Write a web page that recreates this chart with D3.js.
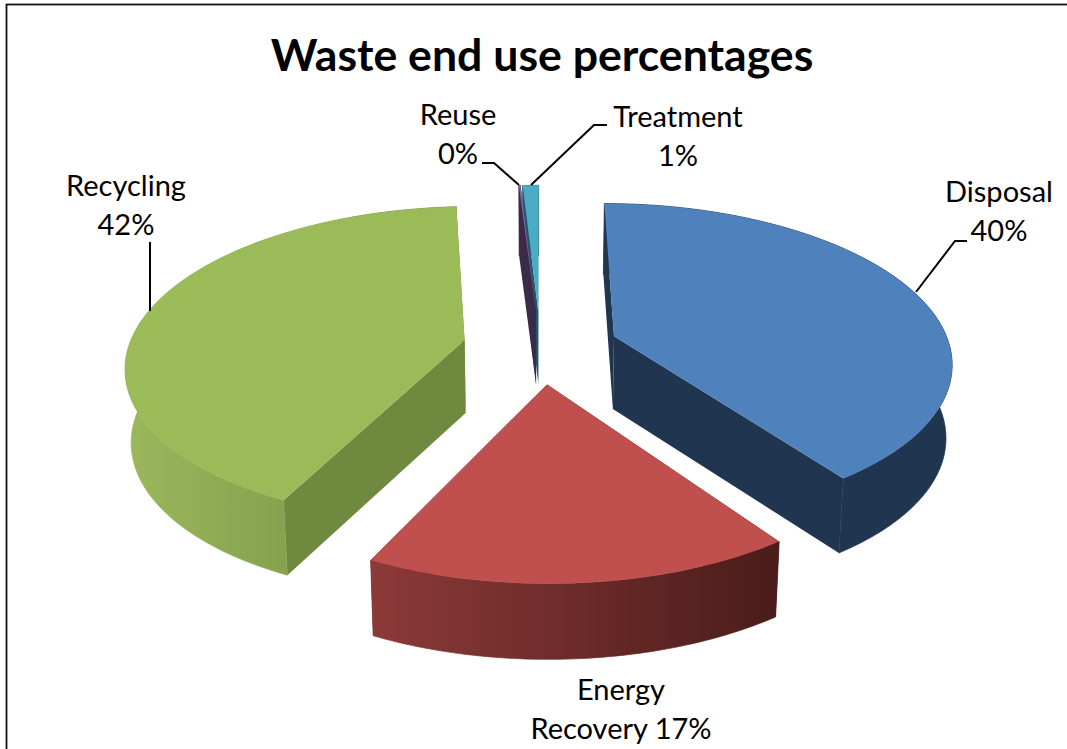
<!DOCTYPE html>
<html>
<head>
<meta charset="utf-8">
<title>Waste end use percentages</title>
<script src="https://cdn.jsdelivr.net/npm/d3@7"></script>
<style>
  html, body { margin: 0; padding: 0; background: #fff; }
  svg { display: block; }
  text { font-family: Lato, "Open Sans", sans-serif; fill: #000; }
</style>
</head>
<body>
<div id="chart"></div>
<script>
// Waste end use, exploded 3D pie

const chartTitle = "Waste end use percentages";
const categories = ["Disposal", "Energy Recovery", "Recycling", "Reuse", "Treatment"];
const shares = [40.2, 17.0, 41.8, 0.1, 0.9];
const topColors = ["#4f81bd", "#c0504d", "#9bbb59", "#8064a2", "#4bacc6"];
const cutColors = ["#1f3550", "#4a1c1a", "#6f8a3f", "#3b2a48", "#1f5a6a"];
const wallLeft = ["#1f3550", "#8c3a38", "#9bb85c", "#3b2a48", "#1f5a6a"];
const wallRight = ["#1f3550", "#4a1c1a", "#6f8a3f", "#3b2a48", "#1f5a6a"];
// back slices first so nearer ones paint over them
const drawOrder = [4, 3, 0, 2, 1];

// label lines, one entry per category
const labelLines = [
  ["Disposal", "40%"],
  ["Energy", "Recovery 17%"],
  ["Recycling", "42%"],
  ["Reuse", "0%"],
  ["Treatment", "1%"]
];
const labelPos = [[999, 202], [621, 700], [126, 196], [458, 125], [678, 127]];
const leaders = [
  [[967, 241], [955, 241], [916, 292]],
  [],
  [[150, 242], [150, 311]],
  [[482, 163], [494, 163], [519, 185]],
  [[607, 125], [594, 125], [531, 185]]
];

const width = 1067, height = 749;
const explode = 0.232;   // slice offset, in pie radii
const persp = 0.153;     // perspective strength along the depth axis

const svg = d3.select("#chart").append("svg")
  .attr("width", width)
  .attr("height", height);

// unit pie coords -> screen
const xScale = d3.scaleLinear().domain([-1, 1]).range([540.5 - 336, 540.5 + 336]);
const yScale = d3.scaleLinear().domain([-1, 1]).range([347 - 156, 347 + 156]);
const zScale = d3.scaleLinear().domain([0, 1]).range([0, 73]);
const squeeze = d3.scaleLinear().domain([0, 1]).range([1, 0.985]);

function project(u, v, z) {
  const s = 1 / (1 - persp * v);
  const x0 = xScale(u * s * squeeze(z));
  return [x0, yScale(v * s) + zScale(z) * (1 + 0.03 * v)];
}

const pie = d3.pie().sort(null).startAngle(0).endAngle(2 * Math.PI);
const arcs = pie(shares);

const line = d3.line();
const defs = svg.append("defs");

// Outer frame of the chart area
svg.append("rect")
  .attr("x", 6.5)
  .attr("y", 4.5)
  .attr("width", width + 20)
  .attr("height", height + 20)
  .attr("fill", "#fff")
  .attr("stroke", "#111")
  .attr("stroke-width", 1.8);

svg.append("text")
  .attr("x", 542)
  .attr("y", 71)
  .attr("text-anchor", "middle")
  .attr("font-size", 44.6)
  .attr("font-weight", 700)
  .text(chartTitle);

const slices = svg.append("g");

drawOrder.forEach(i => {
  const d = arcs[i];
  const mid = (d.startAngle + d.endAngle) / 2;
  const cu = explode * Math.sin(mid);
  const cv = -explode * Math.cos(mid);

  const steps = d3.range(0, 61).map(t => d.startAngle + (d.endAngle - d.startAngle) * t / 60);
  const rim = z => steps.map(a => project(cu + Math.sin(a), cv - Math.cos(a), z));
  const apex = z => project(cu, cv, z);

  const top = rim(0), bottom = rim(1);
  const g = slices.append("g").attr("class", "slice");

  // gradient across the outer wall
  const gradId = "wall" + i;
  const grad = defs.append("linearGradient")
    .attr("id", gradId)
    .attr("gradientUnits", "userSpaceOnUse")
    .attr("x1", d3.min(top, p => p[0]))
    .attr("x2", d3.max(top, p => p[0]))
    .attr("y1", 0)
    .attr("y2", 0);
  grad.append("stop").attr("offset", 0).attr("stop-color", wallLeft[i]);
  grad.append("stop").attr("offset", 1).attr("stop-color", wallRight[i]);

  // the two cut faces
  [[top[0], bottom[0]], [top[60], bottom[60]]].forEach(edge => {
    g.append("path")
      .attr("d", line([apex(0), edge[0], edge[1], apex(1)]) + "Z")
      .attr("fill", cutColors[i]);
  });

  // stroke hides the hairline seam where wall meets cut face
  g.append("path")
    .attr("d", line(top.concat(bottom.slice().reverse())) + "Z")
    .attr("fill", "url(#" + gradId + ")")
    .attr("stroke", "url(#" + gradId + ")")
    .attr("stroke-width", 0.7);

  g.append("path")
    .attr("d", line([apex(0)].concat(top)) + "Z")
    .attr("fill", topColors[i]);
});

// Leader lines
svg.append("g").selectAll("path")
  .data(leaders.filter(l => l.length))
  .enter()
  .append("path")
  .attr("d", d => line(d))
  .attr("fill", "none")
  .attr("stroke", "#000")
  .attr("stroke-width", 2);

// Data labels
const labels = svg.append("g").selectAll("text")
  .data(categories)
  .enter()
  .append("text")
  .attr("text-anchor", "middle")
  .attr("font-size", 29);

labels.each(function (name, i) {
  d3.select(this).selectAll("tspan")
    .data(labelLines[i])
    .enter()
    .append("tspan")
    .attr("x", labelPos[i][0])
    .attr("y", (t, j) => labelPos[i][1] + j * 39)
    .text(t => t);
});
</script>
</body>
</html>
